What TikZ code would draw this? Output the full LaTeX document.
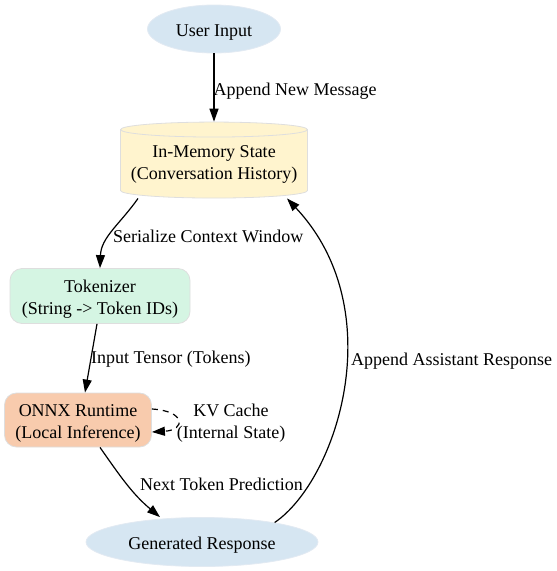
\documentclass[tikz,border=0pt]{standalone}
\usepackage{fontspec}
\setmainfont{Liberation Serif}
\usepackage{tikz}
\usetikzlibrary{shapes, shapes.geometric, positioning, arrows.meta, calc}
\definecolor{inputblue}{RGB}{214, 230, 242}
\definecolor{inputedge}{RGB}{226, 234, 242}
\definecolor{statefill}{RGB}{255, 244, 206}
\definecolor{tokfill}{RGB}{213, 245, 227}
\definecolor{onnxfill}{RGB}{248, 203, 173}
\definecolor{lightedge}{RGB}{222, 222, 222}
% text lowered a little inside its box
\newcommand{\lowtext}[2][3pt]{\raisebox{-#1}[\height][\depth]{\begin{tabular}{@{}c@{}}#2\end{tabular}}}
\tikzset{
    flowarrow/.style={draw=black, line width=1.2pt, -{Triangle[length=13pt, width=9pt]}},
    edgelabel/.style={font=\fontsize{18}{22}\selectfont, align=center, inner sep=0pt},
    roundbox/.style={rounded corners=12pt, draw=lightedge, line width=0.8pt, inner sep=0pt, font=\fontsize{18}{22}\selectfont},
    ovalbox/.style={ellipse, fill=inputblue, draw=inputedge, line width=0.8pt, inner sep=0pt, font=\fontsize{18}{22}\selectfont}
}

\begin{document}
\begin{tikzpicture}[x=1pt, y=-1pt]
    \useasboundingbox (0,0) rectangle (557,571);
    % Nodes
    \node[ovalbox, minimum width=133pt, minimum height=48pt] (user) at (214,29) {\lowtext{User Input}};
    \node[cylinder, shape border rotate=90, aspect=0.09, fill=statefill, draw=lightedge, line width=0.8pt, minimum width=187pt, minimum height=76pt, inner sep=0pt, font=\fontsize{18}{22}\selectfont] (state) at (214,164) {\lowtext[0pt]{In-Memory State\\(Conversation History)}};
    \node[roundbox, fill=tokfill, minimum width=180pt, minimum height=55pt] (tok) at (100,296) {\lowtext{Tokenizer\\(String -> Token IDs)}};
    \node[roundbox, fill=onnxfill, minimum width=147pt, minimum height=54pt] (onnx) at (78,420) {\lowtext{ONNX Runtime\\(Local Inference)}};
    \node[ovalbox, minimum width=232pt, minimum height=49pt] (gen) at (202,542) {\lowtext{Generated Response}};

    % Edges
    \draw[flowarrow] (user) -- (state.north) node[edgelabel, pos=0.52, anchor=west, xshift=-1pt, yshift=-2pt] {Append New Message};
    \draw[flowarrow] ([xshift=-76pt]state.south) to[out=235, in=88] ([xshift=0pt]tok.north);
    \node[edgelabel, anchor=west] (serlbl) at (113,236) {Serialize Context Window};
    \draw[flowarrow] ([xshift=-3pt]tok.south) -- ([xshift=7pt]onnx.north);
    \node[edgelabel, anchor=west] (inlbl) at (91,359) {Input Tensor (Tokens)};
    \draw[flowarrow, dashed, dash pattern=on 6pt off 5pt] ([yshift=11pt]onnx.east) .. controls +(34pt,-2pt) and +(34pt,2pt) .. ([yshift=-12pt]onnx.east);
    \node[edgelabel] (kvlbl) at (231,423) {KV Cache\\(Internal State)};
    \draw[flowarrow] ([xshift=22pt]onnx.south) to[out=-55, in=140] ([xshift=-42pt]gen.north);
    \node[edgelabel, anchor=west] (nextlbl) at (140,484) {Next Token Prediction};
    \draw[flowarrow] (gen.15) .. controls (337,480) and (392,310) .. ([xshift=73pt]state.south);
    \node[edgelabel, anchor=west] (applbl) at (351,361) {Append Assistant Response};
\end{tikzpicture}
\end{document}
